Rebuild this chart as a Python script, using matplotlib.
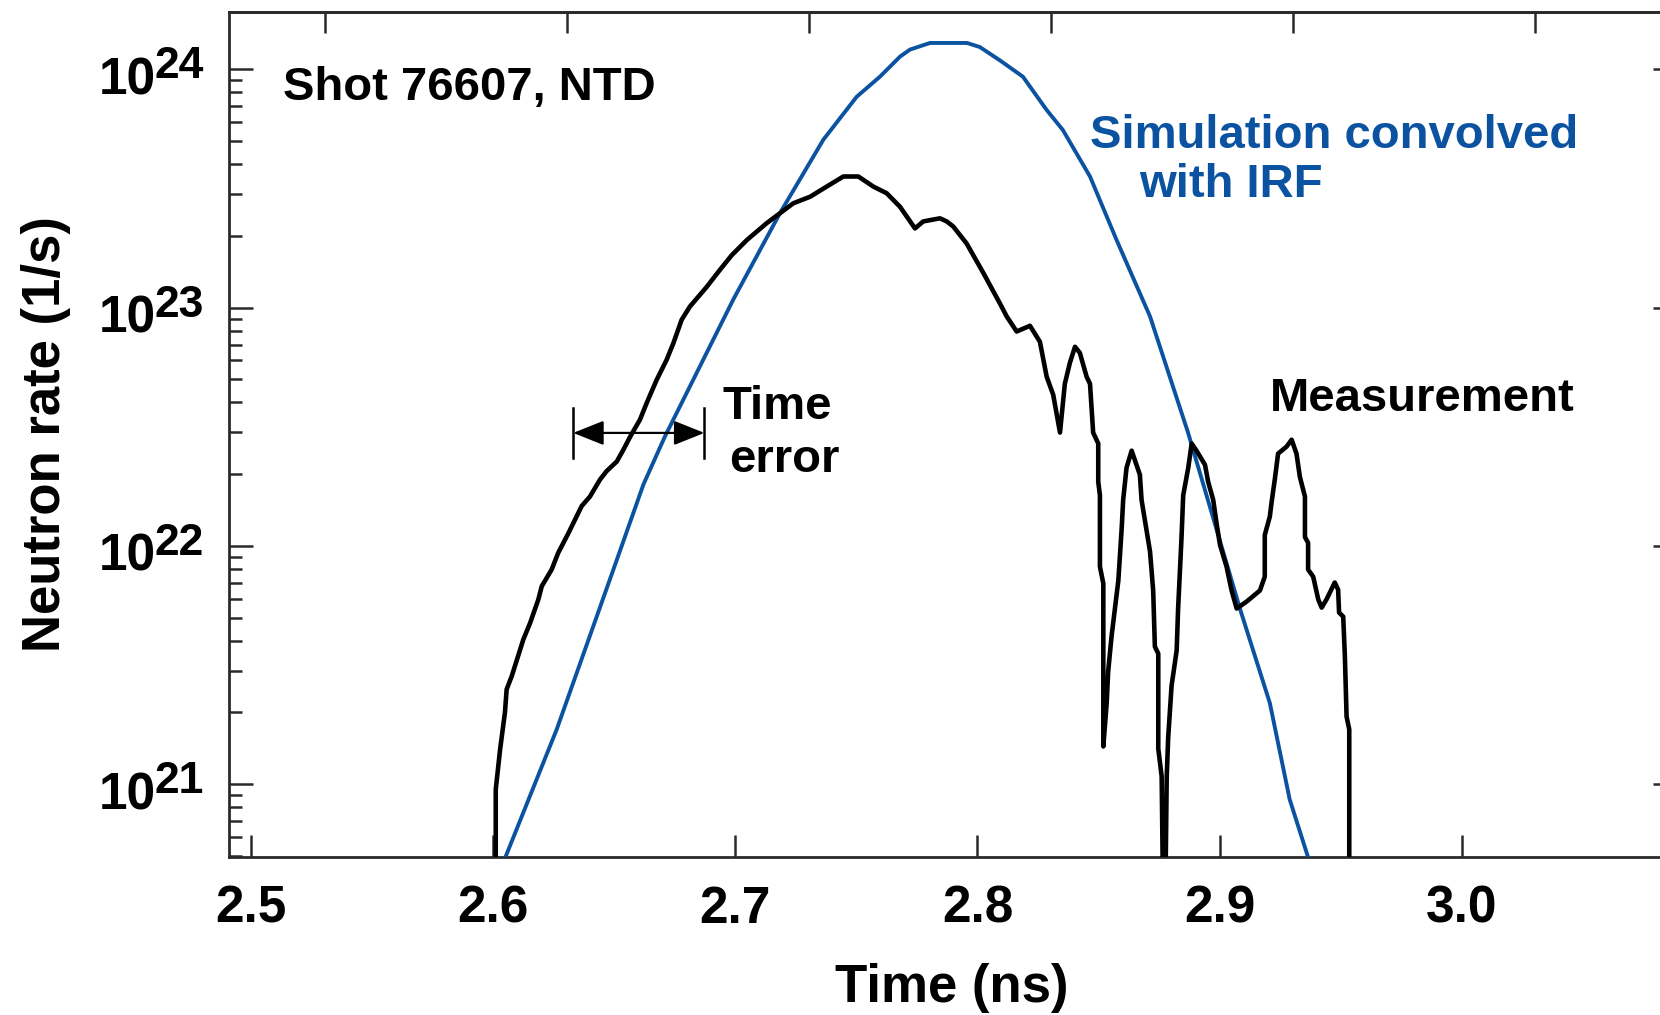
import numpy as np
import matplotlib
matplotlib.use("Agg")
import matplotlib.pyplot as plt
from matplotlib.ticker import FixedLocator, LogLocator, NullFormatter

plt.rcParams['font.family'] = ['Liberation Sans', 'DejaVu Sans']
plt.rcParams['font.weight'] = 'bold'

# measured neutron rate (NTD), time in ns, rate in 1/s
meas_t = [2.6010, 2.6010, 2.6028, 2.6048, 2.6055, 2.6076, 2.6124, 2.6152, 2.6186, 2.6200,
          2.6241, 2.6268, 2.6310, 2.6365, 2.6399, 2.6441, 2.6468, 2.6510, 2.6537, 2.6565,
          2.6606, 2.6634, 2.6675, 2.6716, 2.6744, 2.6778, 2.6812, 2.6881, 2.6936, 2.6985,
          2.7047, 2.7129, 2.7184, 2.7239, 2.7309, 2.7377, 2.7446, 2.7508, 2.7570, 2.7625,
          2.7680, 2.7708, 2.7742, 2.7776, 2.7845, 2.7873, 2.7900, 2.7955, 2.8024, 2.8093,
          2.8121, 2.8162, 2.8217, 2.8258, 2.8286, 2.8313, 2.8341, 2.8361, 2.8382, 2.8403,
          2.8423, 2.8451, 2.8465, 2.8478, 2.8499, 2.8499, 2.8506, 2.8506, 2.8520, 2.8520,
          2.8534, 2.8540, 2.8554, 2.8568, 2.8582, 2.8596, 2.8602, 2.8616, 2.8637, 2.8651,
          2.8671, 2.8678, 2.8692, 2.8713, 2.8726, 2.8733, 2.8747, 2.8747, 2.8761, 2.8766,
          2.8777, 2.8782, 2.8788, 2.8802, 2.8823, 2.8829, 2.8843, 2.8850, 2.8871, 2.8885,
          2.8905, 2.8940, 2.8953, 2.8974, 2.8988, 2.9002, 2.9029, 2.9050, 2.9071, 2.9112,
          2.9167, 2.9187, 2.9187, 2.9208, 2.9215, 2.9229, 2.9242, 2.9277, 2.9298, 2.9318,
          2.9332, 2.9353, 2.9353, 2.9366, 2.9366, 2.9387, 2.9408, 2.9422, 2.9442, 2.9476,
          2.9490, 2.9494, 2.9511, 2.9518, 2.9525, 2.9536, 2.9536]
meas_rate = [4.0e20, 9.5e20, 1.40e21, 2.00e21, 2.50e21, 2.84e21, 4.05e21, 4.75e21, 5.96e21, 6.77e21,
             7.96e21, 9.35e21, 1.13e22, 1.47e22, 1.61e22, 1.90e22, 2.06e22, 2.26e22, 2.53e22, 2.87e22,
             3.39e22, 3.99e22, 4.98e22, 6.04e22, 7.10e22, 8.89e22, 1.01e23, 1.22e23, 1.44e23, 1.66e23,
             1.92e23, 2.26e23, 2.49e23, 2.74e23, 2.92e23, 3.22e23, 3.55e23, 3.55e23, 3.22e23, 3.02e23,
             2.65e23, 2.41e23, 2.15e23, 2.30e23, 2.37e23, 2.30e23, 2.19e23, 1.86e23, 1.40e23, 1.04e23,
             9.18e22, 7.94e22, 8.39e22, 7.19e22, 5.13e22, 4.31e22, 2.99e22, 4.79e22, 5.87e22, 6.85e22,
             6.46e22, 5.13e22, 4.79e22, 2.99e22, 2.69e22, 1.86e22, 1.63e22, 8.19e21, 6.95e21, 1.44e21,
             2.20e21, 2.97e21, 4.17e21, 5.46e21, 7.15e21, 1.19e22, 1.56e22, 2.13e22, 2.51e22, 2.28e22,
             1.99e22, 1.56e22, 1.28e22, 9.46e21, 6.50e21, 3.78e21, 3.53e21, 1.41e21, 1.08e21, 4.0e20,
             4.0e20, 1.08e21, 1.57e21, 2.59e21, 3.64e21, 5.46e21, 1.08e22, 1.63e22, 2.13e22, 2.69e22,
             2.51e22, 2.19e22, 1.86e22, 1.56e22, 1.24e22, 1.01e22, 8.19e21, 6.50e21, 5.46e21, 5.84e21,
             6.50e21, 7.43e21, 1.11e22, 1.33e22, 1.52e22, 1.92e22, 2.44e22, 2.61e22, 2.79e22, 2.44e22,
             1.95e22, 1.61e22, 1.09e22, 1.03e22, 7.96e21, 7.43e21, 5.96e21, 5.51e21, 5.96e21, 7.02e21,
             6.56e21, 5.25e21, 5.05e21, 3.43e21, 1.92e21, 1.70e21, 4.0e20]

# simulated rate convolved with the instrument response
sim_t = [2.6013, 2.6052, 2.6262, 2.6496, 2.6620, 2.6709, 2.6991, 2.7184, 2.7363, 2.7501,
         2.7597, 2.7680, 2.7721, 2.7804, 2.7957, 2.8010, 2.8093, 2.8188, 2.8286, 2.8353,
         2.8465, 2.8575, 2.8713, 2.8870, 2.9084, 2.9208, 2.9290, 2.9365, 2.9385]
sim_rate = [4.0e20, 5.0e20, 1.70e21, 7.96e21, 1.81e22, 2.88e22, 1.08e23, 2.49e23, 5.06e23, 7.67e23,
            9.31e23, 1.13e24, 1.21e24, 1.29e24, 1.29e24, 1.24e24, 1.09e24, 9.31e23, 6.75e23, 5.56e23,
            3.55e23, 1.92e23, 9.18e22, 2.99e22, 5.47e21, 2.19e21, 8.63e20, 4.97e20, 4.0e20]

x_ticks = [2.5, 2.6, 2.7, 2.8, 2.9, 3.0]
x_tick_labels = ['2.5', '2.6', '2.7', '2.8', '2.9', '3.0']
top_ticks = [2.5305, 2.6305, 2.7305, 2.8305, 2.9305, 3.0305]
y_decades = [21, 22, 23, 24]

# time error marker
err_left, err_right = 2.6330, 2.6872
err_y = 2.98e22
err_bar_lo, err_bar_hi = 2.34e22, 3.79e22

blue = '#0b52a0'
axis_col = '#2a2a2a'

fig = plt.figure(figsize=(16.6, 10.15), dpi=100)
ax = fig.add_axes([0.13795, 0.15567, 0.87229, 0.83251])

ax.plot(sim_t, sim_rate, color=blue, lw=2.8, zorder=3)
ax.plot(meas_t, meas_rate, color='black', lw=3.3, zorder=4)

ax.set_yscale('log')
ax.set_xlim(2.4908, 3.089)
ax.set_ylim(4.95e20, 1.74e24)

for s in ax.spines.values():
    s.set_color(axis_col)
    s.set_linewidth(2.0)

ax.set_xticks(x_ticks)
ax.set_xticklabels(x_tick_labels)
ax.yaxis.set_major_locator(FixedLocator([10.0 ** k for k in y_decades]))
ax.yaxis.set_minor_locator(LogLocator(base=10, subs=np.arange(2, 10), numticks=20))
ax.yaxis.set_major_formatter(NullFormatter())
ax.yaxis.set_minor_formatter(NullFormatter())

ax.tick_params(axis='x', which='major', direction='in', length=16, width=1.8,
               color=axis_col, labelsize=37, pad=20, top=False)
ax.tick_params(axis='y', which='major', direction='in', length=17, width=1.8,
               color=axis_col, right=True)
ax.tick_params(axis='y', which='minor', direction='in', length=9, width=1.8,
               color=axis_col, right=True)
ax.tick_params(axis='x', which='minor', bottom=False, top=False)

# top axis ticks are shifted relative to the bottom scale
top = ax.secondary_xaxis('top')
top.set_xticks(top_ticks)
top.tick_params(direction='in', length=15, width=1.8, color=axis_col, labeltop=False)
top.spines['top'].set_color(axis_col)
top.spines['top'].set_linewidth(2.0)

# decade labels drawn as 10 with a large superscript
ytr = ax.get_yaxis_transform()
for k in y_decades:
    ax.annotate('10', xy=(0, 10.0 ** k), xycoords=ytr, xytext=(-73, -25),
                textcoords='offset pixels', ha='right', va='baseline', fontsize=37,
                fontweight='bold', annotation_clip=False)
    ax.annotate(str(k), xy=(0, 10.0 ** k), xycoords=ytr, xytext=(-74, -9),
                textcoords='offset pixels', ha='left', va='baseline', fontsize=32,
                fontweight='bold', annotation_clip=False)

fig.text(46 / 1660, 1 - 434 / 1015, 'Neutron rate (1/s)', rotation=90,
         ha='center', va='center', fontsize=38, fontweight='bold')
fig.text(952 / 1660, 1 - 988 / 1015, 'Time (ns)', ha='center', va='center',
         fontsize=38, fontweight='bold')

ax.text(2.5131, 7.43e23, 'Shot 76607, NTD', fontsize=34, fontweight='bold',
        va='baseline', ha='left')
ax.text(2.8467, 4.68e23, 'Simulation convolved', fontsize=34, fontweight='bold',
        color=blue, va='baseline', ha='left')
ax.text(2.8667, 2.92e23, 'with IRF', fontsize=34, fontweight='bold',
        color=blue, va='baseline', ha='left')
ax.text(2.9209, 3.69e22, 'Measurement', fontsize=34, fontweight='bold',
        va='baseline', ha='left')
ax.text(2.6948, 3.40e22, 'Time', fontsize=34, fontweight='bold', va='baseline', ha='left')
ax.text(2.6975, 2.04e22, 'error', fontsize=34, fontweight='bold', va='baseline', ha='left')

ax.plot([err_left, err_left], [err_bar_lo, err_bar_hi], color='black', lw=1.8, zorder=5)
ax.plot([err_right, err_right], [err_bar_lo, err_bar_hi], color='black', lw=1.8, zorder=5)
ax.annotate('', xy=(err_right, err_y), xytext=(err_left, err_y),
            arrowprops=dict(arrowstyle='<|-|>,head_length=0.95,head_width=0.38',
                            mutation_scale=20, color='black', lw=1.6,
                            shrinkA=0, shrinkB=0), zorder=5)

fig.savefig('out.png', dpi=100)
